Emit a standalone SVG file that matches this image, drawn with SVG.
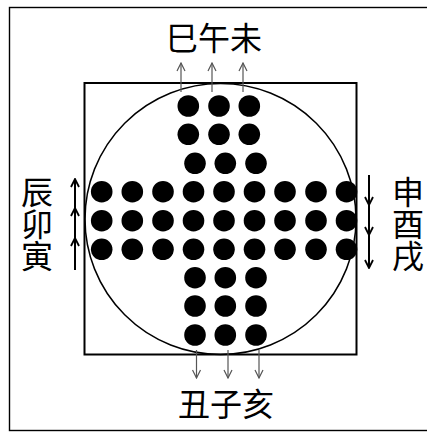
<svg xmlns="http://www.w3.org/2000/svg" width="427" height="432" viewBox="0 0 427 432">
<style>
.lbl{font-family:"Noto Sans CJK SC","Noto Sans CJK JP",sans-serif;font-size:32px;fill:#000;text-anchor:middle}
.vert{writing-mode:vertical-rl}
.dot{fill:#000}
.ga{stroke:#555;stroke-width:1.2;fill:none}
.ba{stroke:#000;stroke-width:2;fill:none}
</style>
<defs>
<marker id="hg" viewBox="0 0 10 10" refX="9" refY="5" markerWidth="10" markerHeight="10" markerUnits="userSpaceOnUse" orient="auto">
<path d="M1,1 L9,5 L1,9" fill="none" stroke="#555" stroke-width="1.2"/>
</marker>
<marker id="hb" viewBox="0 0 10 10" refX="9" refY="5" markerWidth="10" markerHeight="10" markerUnits="userSpaceOnUse" orient="auto">
<path d="M1,1 L9,5 L1,9" fill="none" stroke="#000" stroke-width="1.8"/>
</marker>
</defs>
<rect width="427" height="432" fill="#fff"/>
<g id="frame"><rect x="9.5" y="7.5" width="424" height="423" fill="none" stroke="#000" stroke-width="1.4"/></g>
<g id="board">
<rect x="84.5" y="83" width="272" height="271.5" fill="none" stroke="#000" stroke-width="2"/>
<circle cx="220.5" cy="219" r="135.5" fill="none" stroke="#000" stroke-width="1.5"/>
</g>
<g id="pegs">
<circle class="dot" cx="188.3" cy="106" r="10.8"/><circle class="dot" cx="219" cy="106" r="10.8"/><circle class="dot" cx="249.3" cy="106" r="10.8"/>
<circle class="dot" cx="188.3" cy="134.3" r="10.8"/><circle class="dot" cx="219" cy="134.3" r="10.8"/><circle class="dot" cx="249.3" cy="134.3" r="10.8"/>
<circle class="dot" cx="195" cy="163.3" r="10.8"/><circle class="dot" cx="225.3" cy="163.3" r="10.8"/><circle class="dot" cx="256" cy="163.3" r="10.8"/>
<g id="row4">
<circle class="dot" cx="101.7" cy="191.7" r="10.8"/><circle class="dot" cx="132.3" cy="191.7" r="10.8"/><circle class="dot" cx="163" cy="191.7" r="10.8"/><circle class="dot" cx="193.5" cy="191.7" r="10.8"/><circle class="dot" cx="224" cy="191.7" r="10.8"/><circle class="dot" cx="254.5" cy="191.7" r="10.8"/><circle class="dot" cx="285" cy="191.7" r="10.8"/><circle class="dot" cx="316" cy="191.7" r="10.8"/><circle class="dot" cx="346.5" cy="191.7" r="10.8"/>
</g>
<g id="row5">
<circle class="dot" cx="101.7" cy="220.7" r="10.8"/><circle class="dot" cx="132.3" cy="220.7" r="10.8"/><circle class="dot" cx="163" cy="220.7" r="10.8"/><circle class="dot" cx="193.5" cy="220.7" r="10.8"/><circle class="dot" cx="224" cy="220.7" r="10.8"/><circle class="dot" cx="254.5" cy="220.7" r="10.8"/><circle class="dot" cx="285" cy="220.7" r="10.8"/><circle class="dot" cx="316" cy="220.7" r="10.8"/><circle class="dot" cx="346.5" cy="220.7" r="10.8"/>
</g>
<g id="row6">
<circle class="dot" cx="101.7" cy="249.3" r="10.8"/><circle class="dot" cx="132.3" cy="249.3" r="10.8"/><circle class="dot" cx="163" cy="249.3" r="10.8"/><circle class="dot" cx="193.5" cy="249.3" r="10.8"/><circle class="dot" cx="224" cy="249.3" r="10.8"/><circle class="dot" cx="254.5" cy="249.3" r="10.8"/><circle class="dot" cx="285" cy="249.3" r="10.8"/><circle class="dot" cx="316" cy="249.3" r="10.8"/><circle class="dot" cx="346.5" cy="249.3" r="10.8"/>
</g>
<circle class="dot" cx="195" cy="277.7" r="10.8"/><circle class="dot" cx="225.3" cy="277.7" r="10.8"/><circle class="dot" cx="256" cy="277.7" r="10.8"/>
<circle class="dot" cx="195" cy="306" r="10.8"/><circle class="dot" cx="225.3" cy="306" r="10.8"/><circle class="dot" cx="256" cy="306" r="10.8"/>
<circle class="dot" cx="195" cy="335" r="10.8"/><circle class="dot" cx="225.3" cy="335" r="10.8"/><circle class="dot" cx="256" cy="335" r="10.8"/>
</g>
<g id="connectors">
<line class="ga" x1="181" y1="92" x2="181" y2="63" marker-end="url(#hg)"/>
<line class="ga" x1="212" y1="92" x2="212" y2="63" marker-end="url(#hg)"/>
<line class="ga" x1="243" y1="92" x2="243" y2="63" marker-end="url(#hg)"/>
<line class="ga" x1="196.5" y1="350" x2="196.5" y2="378" marker-end="url(#hg)"/>
<line class="ga" x1="228" y1="350" x2="228" y2="378" marker-end="url(#hg)"/>
<line class="ga" x1="259" y1="350" x2="259" y2="378" marker-end="url(#hg)"/>
<line class="ba" x1="75" y1="270" x2="75" y2="238" marker-end="url(#hb)"/>
<line class="ba" x1="75" y1="238" x2="75" y2="208" marker-end="url(#hb)"/>
<line class="ba" x1="75" y1="208" x2="75" y2="179" marker-end="url(#hb)"/>
<line class="ba" x1="369" y1="175" x2="369" y2="205" marker-end="url(#hb)"/>
<line class="ba" x1="369" y1="205" x2="369" y2="235" marker-end="url(#hb)"/>
<line class="ba" x1="369" y1="235" x2="369" y2="268" marker-end="url(#hb)"/>
</g>
<g id="label-top"><text class="lbl" x="214" y="50">巳午未</text></g>
<g id="label-bottom"><text class="lbl" x="226" y="416">丑子亥</text></g>
<g id="label-left"><text class="lbl vert" x="37" y="224">辰卯寅</text></g>
<g id="label-right"><text class="lbl vert" x="408" y="224">申酉戌</text></g>
</svg>
